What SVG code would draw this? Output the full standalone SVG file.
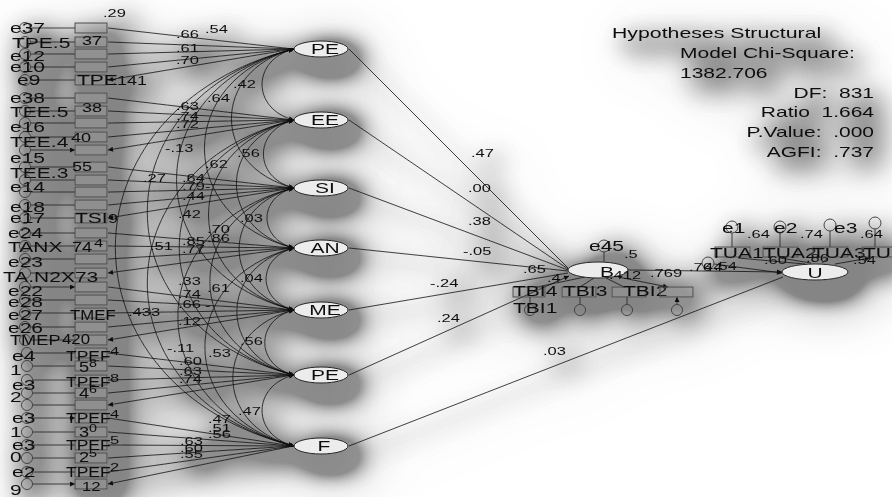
<svg xmlns="http://www.w3.org/2000/svg" width="892" height="497" viewBox="0 0 892 497">
<style>
text{font-family:"Liberation Sans",Arial,sans-serif;fill:#111}
.L{font-size:14px}
.M{font-size:12px}
.S{font-size:11px}
.st{white-space:pre}
.ind rect{fill:#6a6a6a;fill-opacity:.22;stroke:#4a4a4a;stroke-width:1}
.err circle{fill:none;stroke:#333;stroke-width:.9}
.lat ellipse{fill:#ececec;stroke:#222;stroke-width:1}
#connectors path{fill:none;stroke:#111;stroke-width:.8}
</style>
<defs>
<marker id="ah" viewBox="0 0 10 10" refX="10" refY="5" markerWidth="7" markerHeight="5" markerUnits="userSpaceOnUse" orient="auto-start-reverse"><path d="M0,0L10,5L0,10z" fill="#111"/></marker>
<filter id="drop" filterUnits="userSpaceOnUse" x="-60" y="-60" width="1020" height="620">
<feGaussianBlur in="SourceAlpha" stdDeviation="13" result="b"/>
<feOffset in="b" dx="10" dy="10" result="o"/>
<feComponentTransfer in="o" result="s"><feFuncA type="linear" slope="6"/></feComponentTransfer>
<feFlood flood-color="#000" flood-opacity="0.38"/>
<feComposite operator="in" in2="s" result="sh"/>
<feGaussianBlur in="SourceAlpha" stdDeviation="28" result="b2"/>
<feOffset in="b2" dx="14" dy="14" result="o2"/>
<feComponentTransfer in="o2" result="s2"><feFuncA type="linear" slope="5"/></feComponentTransfer>
<feFlood flood-color="#000" flood-opacity="0.16"/>
<feComposite operator="in" in2="s2" result="sh2"/>
<feMerge><feMergeNode in="sh2"/><feMergeNode in="sh"/><feMergeNode in="SourceGraphic"/></feMerge>
</filter>
</defs>
<rect width="892" height="497" fill="#fff"/>
<g filter="url(#drop)">
<g id="connectors">
<g id="loadings" marker-end="url(#ah)">
<path d="M293 49L108 28M293 49L108 42M293 49L108 54M293 49L108 67M293 49L108 80"/>
<path d="M293 120L108 98M293 120L108 111M293 120L108 123M293 120L108 137M293 120L108 150"/>
<path d="M293 188L108 167M293 188L108 180M293 188L108 192M293 188L108 205M293 188L108 218"/>
<path d="M293 248L108 233M293 248L108 246M293 248L108 259M293 248L108 273"/>
<path d="M293 310L108 287M293 310L108 300M293 310L108 313M293 310L108 327M293 310L108 340"/>
<path d="M293 375L108 353M293 375L108 366M293 375L108 380M293 375L108 393M293 375L108 405"/>
<path d="M293 446L108 418M293 446L108 432M293 446L108 445M293 446L108 458M293 446L108 472M293 446L108 484"/>
</g>
<g id="residual-paths" marker-end="url(#ah)">
<path d="M31 28H75M31 42H75M31 54H75M31 67H75M31 80H75M31 98H75M31 111H75M31 123H75M31 137H75M31 150H75"/>
<path d="M31 167H75M31 180H75M31 192H75M31 205H75M31 218H75M31 233H75M31 246H75M31 259H75M31 273H75M31 287H75"/>
<path d="M31 300H75M31 313H75M31 327H75M31 340H75M33 353H75M33 366H75M33 380H75M33 393H75M33 405H75M33 418H75"/>
<path d="M33 432H75M33 445H75M33 458H75M33 472H75M33 484H75"/>
<path d="M604 252V262M530 304V297M580 304V297M627 304V297M677 304V297"/>
<path d="M732 233V247M780 233V247M830 231V247M875 229V247M714 264L782 273"/>
</g>
<g id="covariances" marker-start="url(#ah)" marker-end="url(#ah)">
<path d="M294 49C251.4 59.7 251.4 109.3 294 120"/>
<path d="M294 49C210.6 69.9 210.6 167.2 294 188"/>
<path d="M294 49C174.6 78.9 174.6 218.2 294 248"/>
<path d="M294 49C137.4 88.2 137.4 270.9 294 310"/>
<path d="M294 49C98.4 97.9 98.4 326.1 294 375"/>
<path d="M294 49C55.8 108.6 55.8 386.5 294 446"/>
<path d="M294 120C253.2 130.2 253.2 177.8 294 188"/>
<path d="M294 120C217.2 139.2 217.2 228.8 294 248"/>
<path d="M294 120C180 148.5 180 281.5 294 310"/>
<path d="M294 120C141 158.3 141 336.8 294 375"/>
<path d="M294 120C98.4 168.9 98.4 397.1 294 446"/>
<path d="M294 188C258 197 258 239 294 248"/>
<path d="M294 188C220.8 206.3 220.8 291.7 294 310"/>
<path d="M294 188C181.8 216.1 181.8 347 294 375"/>
<path d="M294 188C139.2 226.7 139.2 407.3 294 446"/>
<path d="M294 248C256.8 257.3 256.8 300.7 294 310"/>
<path d="M294 248C217.8 267.1 217.8 356 294 375"/>
<path d="M294 248C175.2 277.7 175.2 416.3 294 446"/>
<path d="M294 310C255 319.8 255 365.3 294 375"/>
<path d="M294 310C212.4 330.4 212.4 425.6 294 446"/>
<path d="M294 375C251.4 385.7 251.4 435.4 294 446"/>
</g>
<g id="structural" marker-end="url(#ah)">
<path d="M349 49L568 268M349 120L568 269M349 188L568 270M349 248L568 271M349 310L568 273M349 375L569 276"/>
<path d="M349 446L783 277M628 270L782 272"/>
<path d="M585 277L537 287M594 278L580 287M606 278L624 287M618 277L668 287"/>
<path d="M805 264L738 258M811 263L780 258M822 263L828 258M835 264L870 258"/>
</g>
</g>
<g id="latents" class="lat">
<g id="PE"><ellipse cx="321" cy="49" rx="27" ry="8"/><text class="L" text-anchor="middle" transform="matrix(1.5 0 0 1 325 54)">PE</text></g>
<g id="EE"><ellipse cx="321" cy="120" rx="27" ry="8"/><text class="L" text-anchor="middle" transform="matrix(1.5 0 0 1 325 125)">EE</text></g>
<g id="SI"><ellipse cx="321" cy="188" rx="27" ry="8"/><text class="L" text-anchor="middle" transform="matrix(1.5 0 0 1 325 193)">SI</text></g>
<g id="AN"><ellipse cx="321" cy="248" rx="27" ry="8"/><text class="L" text-anchor="middle" transform="matrix(1.5 0 0 1 325 253)">AN</text></g>
<g id="ME"><ellipse cx="321" cy="310" rx="27" ry="8"/><text class="L" text-anchor="middle" transform="matrix(1.5 0 0 1 325 315)">ME</text></g>
<g id="PE2"><ellipse cx="321" cy="375" rx="27" ry="8"/><text class="L" text-anchor="middle" transform="matrix(1.5 0 0 1 325 380)">PE</text></g>
<g id="F"><ellipse cx="321" cy="446" rx="27" ry="8"/><text class="L" text-anchor="middle" transform="matrix(1.5 0 0 1 324 451)">F</text></g>
<g id="B"><ellipse cx="598" cy="270" rx="30" ry="8"/><text class="L" transform="matrix(1.5 0 0 1 600 277)">B</text><text class="S" transform="matrix(1.5 0 0 1 609 279)">.412</text></g>
<g id="U"><ellipse cx="815" cy="272" rx="33" ry="8"/><text class="L" text-anchor="middle" transform="matrix(1.5 0 0 1 815 278)">U</text></g>
</g>
<g id="indicators" class="ind">
<g id="x1"><rect x="75" y="23" width="32" height="10"/></g>
<g id="x2"><rect x="75" y="37" width="32" height="10"/><text class="M" transform="matrix(1.5 0 0 1 82 45)">37</text></g>
<g id="x3"><rect x="75" y="49" width="32" height="10"/></g>
<g id="x4"><rect x="75" y="62" width="32" height="10"/></g>
<g id="x5"><rect x="75" y="75" width="32" height="10"/><text class="L" transform="matrix(1.5 0 0 1 77 85)">TPE</text><text class="M" transform="matrix(1.5 0 0 1 112 85)">.141</text></g>
<g id="x6"><rect x="75" y="93" width="32" height="10"/></g>
<g id="x7"><rect x="75" y="106" width="32" height="10"/><text class="M" transform="matrix(1.5 0 0 1 82 112)">38</text></g>
<g id="x8"><rect x="75" y="118" width="32" height="10"/></g>
<g id="x9"><rect x="75" y="132" width="32" height="10"/><text class="M" transform="matrix(1.5 0 0 1 71 142)">40</text></g>
<g id="x10"><rect x="75" y="145" width="32" height="10"/></g>
<g id="x11"><rect x="75" y="162" width="32" height="10"/><text class="M" transform="matrix(1.5 0 0 1 72 171)">55</text></g>
<g id="x12"><rect x="75" y="175" width="32" height="10"/></g>
<g id="x13"><rect x="75" y="187" width="32" height="10"/></g>
<g id="x14"><rect x="75" y="200" width="32" height="10"/></g>
<g id="x15"><rect x="75" y="213" width="32" height="10"/><text class="L" transform="matrix(1.5 0 0 1 75 223)">TSI</text><text class="M" transform="matrix(1.5 0 0 1 108 223)">9</text></g>
<g id="x16"><rect x="75" y="228" width="32" height="10"/></g>
<g id="x17"><rect x="75" y="241" width="32" height="10"/><text class="L" transform="matrix(1.3 0 0 1 72 252)">74</text><text class="S" transform="matrix(1.5 0 0 1 94 247)">4</text></g>
<g id="x18"><rect x="75" y="254" width="32" height="10"/></g>
<g id="x19"><rect x="75" y="268" width="32" height="10"/></g>
<g id="x20"><rect x="75" y="282" width="32" height="10"/></g>
<g id="x21"><rect x="75" y="295" width="32" height="10"/></g>
<g id="x22"><rect x="75" y="308" width="32" height="10"/><text class="L" transform="matrix(1.2 0 0 1 70 320)">TMEF</text><text class="S" transform="matrix(1.5 0 0 1 128 316)">.433</text></g>
<g id="x23"><rect x="75" y="322" width="32" height="10"/></g>
<g id="x24"><rect x="75" y="335" width="32" height="10"/><text class="L" transform="matrix(1.2 0 0 1 62 344)">420</text></g>
<g id="x25"><rect x="75" y="348" width="32" height="10"/><text class="L" transform="matrix(1.25 0 0 1 66 361)">TPEF</text><text class="S" transform="matrix(1.5 0 0 1 110 355)">4</text></g>
<g id="x26"><rect x="75" y="361" width="32" height="10"/><text class="L" transform="matrix(1.3 0 0 1 79 372)">5</text><text class="S" transform="matrix(1.3 0 0 1 89 367)">8</text></g>
<g id="x27"><rect x="75" y="375" width="32" height="10"/><text class="L" transform="matrix(1.25 0 0 1 66 387)">TPEF</text><text class="S" transform="matrix(1.5 0 0 1 110 382)">8</text></g>
<g id="x28"><rect x="75" y="388" width="32" height="10"/><text class="L" transform="matrix(1.3 0 0 1 79 398)">4</text><text class="S" transform="matrix(1.3 0 0 1 89 393)">6</text></g>
<g id="x29"><rect x="75" y="400" width="32" height="10"/></g>
<g id="x30"><rect x="75" y="413" width="32" height="10"/><text class="L" transform="matrix(1.25 0 0 1 66 423)">TPEF</text><text class="S" transform="matrix(1.5 0 0 1 110 418)">4</text></g>
<g id="x31"><rect x="75" y="427" width="32" height="10"/><text class="L" transform="matrix(1.3 0 0 1 79 437)">3</text><text class="S" transform="matrix(1.3 0 0 1 89 432)">0</text></g>
<g id="x32"><rect x="75" y="440" width="32" height="10"/><text class="L" transform="matrix(1.25 0 0 1 66 450)">TPEF</text><text class="S" transform="matrix(1.5 0 0 1 110 444)">5</text></g>
<g id="x33"><rect x="75" y="453" width="32" height="10"/><text class="L" transform="matrix(1.3 0 0 1 79 462)">2</text><text class="S" transform="matrix(1.3 0 0 1 89 457)">5</text></g>
<g id="x34"><rect x="75" y="467" width="32" height="10"/><text class="L" transform="matrix(1.25 0 0 1 66 477)">TPEF</text><text class="S" transform="matrix(1.5 0 0 1 110 471)">2</text></g>
<g id="x35"><rect x="75" y="479" width="32" height="10"/><text class="M" transform="matrix(1.4 0 0 1 82 491)">12</text></g>
<g id="TBI4"><rect x="513" y="287" width="32" height="10"/><text class="L" transform="matrix(1.5 0 0 1 513 296)">TBI4</text></g>
<g id="TBI3"><rect x="562" y="287" width="34" height="10"/><text class="L" transform="matrix(1.5 0 0 1 563 296)">TBI3</text></g>
<g id="TBI2"><rect x="612" y="287" width="34" height="10"/><text class="L" transform="matrix(1.5 0 0 1 623 296)">TBI2</text></g>
<g id="TBI1"><rect x="660" y="287" width="33" height="10"/></g>
<g id="TUA1"><rect x="715" y="247" width="35" height="10"/><text class="L" transform="matrix(1.5 0 0 1 710 258)">TUA1</text></g>
<g id="TUA2"><rect x="763" y="247" width="35" height="10"/><text class="L" transform="matrix(1.5 0 0 1 763 258)">TUA2</text></g>
<g id="TUA3"><rect x="813" y="247" width="35" height="10"/><text class="L" transform="matrix(1.5 0 0 1 812 258)">TUA3</text></g>
<g id="TUA4"><rect x="862" y="247" width="35" height="10"/><text class="L" transform="matrix(1.5 0 0 1 863 258)">TU</text></g>
</g>
<g id="residuals" class="err">
<g id="r1"><circle cx="25" cy="28" r="5.5"/><text class="L" transform="matrix(1.5 0 0 1 10 33)">e37</text></g>
<g id="r2"><circle cx="25" cy="42" r="5.5"/><text class="L" transform="matrix(1.5 0 0 1 12 48)">TPE.5</text></g>
<g id="r3"><circle cx="25" cy="54" r="5.5"/><text class="L" transform="matrix(1.5 0 0 1 10 61)">e12</text></g>
<g id="r4"><circle cx="25" cy="67" r="5.5"/><text class="L" transform="matrix(1.5 0 0 1 10 72)">e10</text></g>
<g id="r5"><circle cx="25" cy="80" r="5.5"/><text class="L" transform="matrix(1.5 0 0 1 17 85)">e9</text></g>
<g id="r6"><circle cx="25" cy="98" r="5.5"/><text class="L" transform="matrix(1.5 0 0 1 10 103)">e38</text></g>
<g id="r7"><circle cx="25" cy="111" r="5.5"/><text class="L" transform="matrix(1.5 0 0 1 10 117)">TEE.5</text></g>
<g id="r8"><circle cx="25" cy="123" r="5.5"/><text class="L" transform="matrix(1.5 0 0 1 10 132)">e16</text></g>
<g id="r9"><circle cx="25" cy="137" r="5.5"/><text class="L" transform="matrix(1.5 0 0 1 10 147)">TEE.4</text></g>
<g id="r10"><circle cx="25" cy="150" r="5.5"/><text class="L" transform="matrix(1.5 0 0 1 10 163)">e15</text></g>
<g id="r11"><circle cx="25" cy="167" r="5.5"/><text class="L" transform="matrix(1.5 0 0 1 10 178)">TEE.3</text></g>
<g id="r12"><circle cx="25" cy="180" r="5.5"/><text class="L" transform="matrix(1.5 0 0 1 10 192)">e14</text></g>
<g id="r13"><circle cx="25" cy="192" r="5.5"/></g>
<g id="r14"><circle cx="25" cy="205" r="5.5"/><text class="L" transform="matrix(1.5 0 0 1 10 212)">e18</text></g>
<g id="r15"><circle cx="25" cy="218" r="5.5"/><text class="L" transform="matrix(1.5 0 0 1 10 223)">e17</text></g>
<g id="r16"><circle cx="25" cy="233" r="5.5"/><text class="L" transform="matrix(1.5 0 0 1 8 238)">e24</text></g>
<g id="r17"><circle cx="25" cy="246" r="5.5"/><text class="L" transform="matrix(1.5 0 0 1 8 252)">TANX</text></g>
<g id="r18"><circle cx="25" cy="259" r="5.5"/><text class="L" transform="matrix(1.5 0 0 1 8 267)">e23</text></g>
<g id="r19"><circle cx="25" cy="273" r="5.5"/><text class="L" transform="matrix(1.5 0 0 1 3 282)">TA.N2X73</text></g>
<g id="r20"><circle cx="25" cy="287" r="5.5"/><text class="L" transform="matrix(1.5 0 0 1 8 296)">e22</text></g>
<g id="r21"><circle cx="25" cy="300" r="5.5"/><text class="L" transform="matrix(1.5 0 0 1 8 307)">e28</text></g>
<g id="r22"><circle cx="25" cy="313" r="5.5"/><text class="L" transform="matrix(1.5 0 0 1 8 320)">e27</text></g>
<g id="r23"><circle cx="25" cy="327" r="5.5"/><text class="L" transform="matrix(1.5 0 0 1 8 333)">e26</text></g>
<g id="r24"><circle cx="25" cy="340" r="5.5"/><text class="L" transform="matrix(1.3 0 0 1 10 345)">TMEP</text></g>
<g id="r25"><circle cx="27" cy="353" r="5.5"/><text class="L" transform="matrix(1.5 0 0 1 12 361)">e4</text></g>
<g id="r26"><circle cx="27" cy="366" r="5.5"/><text class="L" transform="matrix(1.5 0 0 1 10 375)">1</text></g>
<g id="r27"><circle cx="27" cy="380" r="5.5"/><text class="L" transform="matrix(1.5 0 0 1 12 390)">e3</text></g>
<g id="r28"><circle cx="27" cy="393" r="5.5"/><text class="L" transform="matrix(1.5 0 0 1 10 402)">2</text></g>
<g id="r29"><circle cx="27" cy="405" r="5.5"/></g>
<g id="r30"><circle cx="27" cy="418" r="5.5"/><text class="L" transform="matrix(1.5 0 0 1 12 423)">e3</text></g>
<g id="r31"><circle cx="27" cy="432" r="5.5"/><text class="L" transform="matrix(1.5 0 0 1 10 437)">1</text></g>
<g id="r32"><circle cx="27" cy="445" r="5.5"/><text class="L" transform="matrix(1.5 0 0 1 12 450)">e3</text></g>
<g id="r33"><circle cx="27" cy="458" r="5.5"/><text class="L" transform="matrix(1.5 0 0 1 10 462)">0</text></g>
<g id="r34"><circle cx="27" cy="472" r="5.5"/><text class="L" transform="matrix(1.5 0 0 1 12 477)">e2</text></g>
<g id="r35"><circle cx="27" cy="484" r="5.5"/><text class="L" transform="matrix(1.5 0 0 1 10 495)">9</text></g>
<g id="e45"><circle cx="604" cy="246" r="6"/><text class="L" transform="matrix(1.5 0 0 1 589 251)">e45</text></g>
<g id="d1"><circle cx="530" cy="310" r="5.5"/><text class="L" transform="matrix(1.5 0 0 1 513 313)">TBI1</text></g>
<g id="d2"><circle cx="580" cy="310" r="5.5"/></g>
<g id="d3"><circle cx="627" cy="310" r="5.5"/></g>
<g id="d4"><circle cx="677" cy="310" r="5.5"/></g>
<g id="e1"><circle cx="732" cy="227" r="6"/><text class="L" transform="matrix(1.5 0 0 1 722 233)">e1</text></g>
<g id="e2"><circle cx="780" cy="227" r="6"/><text class="L" transform="matrix(1.5 0 0 1 774 233)">e2</text></g>
<g id="e3"><circle cx="830" cy="225" r="6"/><text class="L" transform="matrix(1.5 0 0 1 834 233)">e3</text></g>
<g id="e4u"><circle cx="875" cy="223" r="6"/></g>
<g id="zU"><circle cx="708" cy="263" r="6"/></g>
</g>
<g id="coefficients">
<text class="S" transform="matrix(1.5 0 0 1 103 17)">.29</text>
<text class="S" transform="matrix(1.5 0 0 1 205 33)">.54</text>
<text class="S" transform="matrix(1.5 0 0 1 176 38)">.66</text>
<text class="S" transform="matrix(1.5 0 0 1 176 52)">.61</text>
<text class="S" transform="matrix(1.5 0 0 1 176 64)">.70</text>
<text class="S" transform="matrix(1.5 0 0 1 233 88)">.42</text>
<text class="S" transform="matrix(1.5 0 0 1 207 102)">.64</text>
<text class="S" transform="matrix(1.5 0 0 1 176 110)">.63</text>
<text class="S" transform="matrix(1.5 0 0 1 176 120)">.74</text>
<text class="S" transform="matrix(1.5 0 0 1 176 128)">.72</text>
<text class="S" transform="matrix(1.5 0 0 1 165 152)">-.13</text>
<text class="S" transform="matrix(1.5 0 0 1 237 157)">.56</text>
<text class="S" transform="matrix(1.5 0 0 1 205 168)">.62</text>
<text class="S" transform="matrix(1.5 0 0 1 143 182)">.27</text>
<text class="S" transform="matrix(1.5 0 0 1 182 182)">.64</text>
<text class="S" transform="matrix(1.5 0 0 1 182 190)">.79</text>
<text class="S" transform="matrix(1.5 0 0 1 205 190)">-</text>
<text class="S" transform="matrix(1.5 0 0 1 182 200)">.44</text>
<text class="S" transform="matrix(1.5 0 0 1 178 218)">.42</text>
<text class="S" transform="matrix(1.5 0 0 1 240 222)">.03</text>
<text class="S" transform="matrix(1.5 0 0 1 207 233)">.70</text>
<text class="S" transform="matrix(1.5 0 0 1 207 242)">.86</text>
<text class="S" transform="matrix(1.5 0 0 1 182 245)">.85</text>
<text class="S" transform="matrix(1.5 0 0 1 150 250)">.51</text>
<text class="S" transform="matrix(1.5 0 0 1 182 253)">.77</text>
<text class="S" transform="matrix(1.5 0 0 1 240 282)">.04</text>
<text class="S" transform="matrix(1.5 0 0 1 178 285)">.33</text>
<text class="S" transform="matrix(1.5 0 0 1 207 292)">.61</text>
<text class="S" transform="matrix(1.5 0 0 1 178 298)">.74</text>
<text class="S" transform="matrix(1.5 0 0 1 178 308)">.66</text>
<text class="S" transform="matrix(1.5 0 0 1 205 309)">-</text>
<text class="S" transform="matrix(1.5 0 0 1 178 325)">.12</text>
<text class="S" transform="matrix(1.5 0 0 1 240 345)">.56</text>
<text class="S" transform="matrix(1.5 0 0 1 167 352)">-.11</text>
<text class="S" transform="matrix(1.5 0 0 1 208 357)">.53</text>
<text class="S" transform="matrix(1.5 0 0 1 179 365)">.60</text>
<text class="S" transform="matrix(1.5 0 0 1 179 375)">.63</text>
<text class="S" transform="matrix(1.5 0 0 1 179 383)">.74</text>
<text class="S" transform="matrix(1.5 0 0 1 238 415)">.47</text>
<text class="S" transform="matrix(1.5 0 0 1 208 423)">.47</text>
<text class="S" transform="matrix(1.5 0 0 1 208 432)">.51</text>
<text class="S" transform="matrix(1.5 0 0 1 208 438)">.56</text>
<text class="S" transform="matrix(1.5 0 0 1 180 445)">.63</text>
<text class="S" transform="matrix(1.5 0 0 1 180 452)">.60</text>
<text class="S" transform="matrix(1.5 0 0 1 180 458)">.55</text>
<text class="S" transform="matrix(1.5 0 0 1 471 157)">.47</text>
<text class="S" transform="matrix(1.5 0 0 1 468 192)">.00</text>
<text class="S" transform="matrix(1.5 0 0 1 468 225)">.38</text>
<text class="S" transform="matrix(1.5 0 0 1 463 255)">-.05</text>
<text class="S" transform="matrix(1.5 0 0 1 430 287)">-.24</text>
<text class="S" transform="matrix(1.5 0 0 1 437 322)">.24</text>
<text class="S" transform="matrix(1.5 0 0 1 543 355)">.03</text>
<text class="S" transform="matrix(1.5 0 0 1 523 273)">.65</text>
<text class="S" transform="matrix(1.5 0 0 1 547 282)">.4</text>
<text class="S" transform="matrix(1.5 0 0 1 624 258)">.5</text>
<text class="S" transform="matrix(1.5 0 0 1 650 277)">.769</text>
<text class="S" transform="matrix(1.5 0 0 1 689 271)">.76</text>
<text class="S" transform="matrix(1.5 0 0 1 704 271)">44</text>
<text class="S" transform="matrix(1.5 0 0 1 714 270)">.54</text>
<text class="S" transform="matrix(1.5 0 0 1 747 238)">.64</text>
<text class="S" transform="matrix(1.5 0 0 1 800 238)">.74</text>
<text class="S" transform="matrix(1.5 0 0 1 860 238)">.64</text>
<text class="S" transform="matrix(1.5 0 0 1 764 264)">.60</text>
<text class="S" transform="matrix(1.5 0 0 1 806 262)">.86</text>
<text class="S" transform="matrix(1.5 0 0 1 853 264)">.54</text>
</g>
<g id="fit-statistics">
<text class="L" transform="matrix(1.52 0 0 1 612 38)">Hypotheses Structural</text>
<text class="L" transform="matrix(1.5 0 0 1 680 58)">Model Chi-Square:</text>
<text class="L" transform="matrix(1.5 0 0 1 680 78)">1382.706</text>
<text class="L st" text-anchor="end" transform="matrix(1.5 0 0 1 874 98)">DF:  831</text>
<text class="L st" text-anchor="end" transform="matrix(1.5 0 0 1 874 117)">Ratio  1.664</text>
<text class="L st" text-anchor="end" transform="matrix(1.5 0 0 1 874 137)">P.Value:  .000</text>
<text class="L st" text-anchor="end" transform="matrix(1.5 0 0 1 874 157)">AGFI:  .737</text>
</g>
</g>
</svg>
